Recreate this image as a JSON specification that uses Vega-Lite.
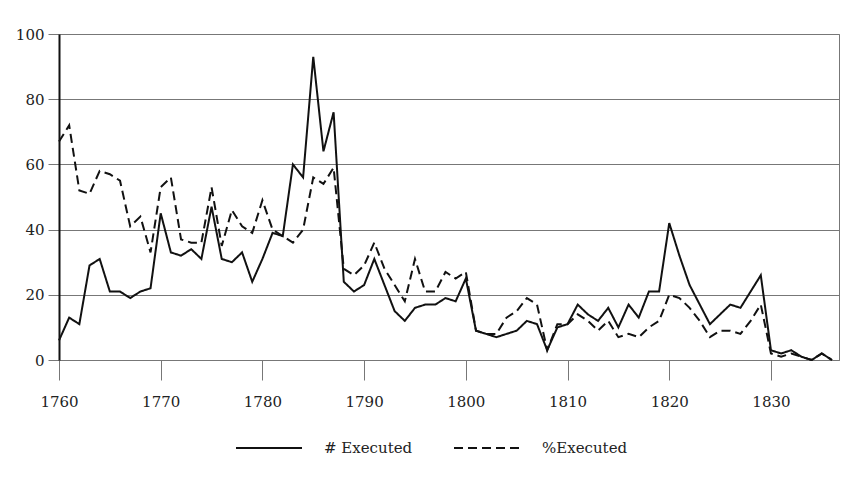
{
  "$schema": "https://vega.github.io/schema/vega-lite/v6.json",
  "autosize": "none",
  "width": 780,
  "height": 326,
  "padding": {"left": 59, "top": 34, "right": 12, "bottom": 126},
  "background": "white",
  "config": {
    "view": {"stroke": "#777", "strokeWidth": 1},
    "font": "DejaVu Serif"
  },
  "data": {
    "values": [
      {"year": 1760, "executed": 6, "pct": 67},
      {"year": 1761, "executed": 13, "pct": 72},
      {"year": 1762, "executed": 11, "pct": 52},
      {"year": 1763, "executed": 29, "pct": 51},
      {"year": 1764, "executed": 31, "pct": 58},
      {"year": 1765, "executed": 21, "pct": 57},
      {"year": 1766, "executed": 21, "pct": 55},
      {"year": 1767, "executed": 19, "pct": 41},
      {"year": 1768, "executed": 21, "pct": 44},
      {"year": 1769, "executed": 22, "pct": 33},
      {"year": 1770, "executed": 45, "pct": 53},
      {"year": 1771, "executed": 33, "pct": 56},
      {"year": 1772, "executed": 32, "pct": 37},
      {"year": 1773, "executed": 34, "pct": 36},
      {"year": 1774, "executed": 31, "pct": 36},
      {"year": 1775, "executed": 47, "pct": 53},
      {"year": 1776, "executed": 31, "pct": 35},
      {"year": 1777, "executed": 30, "pct": 46},
      {"year": 1778, "executed": 33, "pct": 41},
      {"year": 1779, "executed": 24, "pct": 39},
      {"year": 1780, "executed": 31, "pct": 49},
      {"year": 1781, "executed": 39, "pct": 40},
      {"year": 1782, "executed": 38, "pct": 38},
      {"year": 1783, "executed": 60, "pct": 36},
      {"year": 1784, "executed": 56, "pct": 40},
      {"year": 1785, "executed": 93, "pct": 56},
      {"year": 1786, "executed": 64, "pct": 54},
      {"year": 1787, "executed": 76, "pct": 59},
      {"year": 1788, "executed": 24, "pct": 28},
      {"year": 1789, "executed": 21, "pct": 26},
      {"year": 1790, "executed": 23, "pct": 29},
      {"year": 1791, "executed": 31, "pct": 36},
      {"year": 1792, "executed": 23, "pct": 28},
      {"year": 1793, "executed": 15, "pct": 23},
      {"year": 1794, "executed": 12, "pct": 18},
      {"year": 1795, "executed": 16, "pct": 31},
      {"year": 1796, "executed": 17, "pct": 21},
      {"year": 1797, "executed": 17, "pct": 21},
      {"year": 1798, "executed": 19, "pct": 27},
      {"year": 1799, "executed": 18, "pct": 25},
      {"year": 1800, "executed": 25, "pct": 27},
      {"year": 1801, "executed": 9, "pct": 9},
      {"year": 1802, "executed": 8, "pct": 8},
      {"year": 1803, "executed": 7, "pct": 8},
      {"year": 1804, "executed": 8, "pct": 13},
      {"year": 1805, "executed": 9, "pct": 15},
      {"year": 1806, "executed": 12, "pct": 19},
      {"year": 1807, "executed": 11, "pct": 17},
      {"year": 1808, "executed": 3, "pct": 3},
      {"year": 1809, "executed": 10, "pct": 11},
      {"year": 1810, "executed": 11, "pct": 11},
      {"year": 1811, "executed": 17, "pct": 14},
      {"year": 1812, "executed": 14, "pct": 12},
      {"year": 1813, "executed": 12, "pct": 9},
      {"year": 1814, "executed": 16, "pct": 12},
      {"year": 1815, "executed": 10, "pct": 7},
      {"year": 1816, "executed": 17, "pct": 8},
      {"year": 1817, "executed": 13, "pct": 7},
      {"year": 1818, "executed": 21, "pct": 10},
      {"year": 1819, "executed": 21, "pct": 12},
      {"year": 1820, "executed": 42, "pct": 20},
      {"year": 1821, "executed": 32, "pct": 19},
      {"year": 1822, "executed": 23, "pct": 16},
      {"year": 1823, "executed": 17, "pct": 12},
      {"year": 1824, "executed": 11, "pct": 7},
      {"year": 1825, "executed": 14, "pct": 9},
      {"year": 1826, "executed": 17, "pct": 9},
      {"year": 1827, "executed": 16, "pct": 8},
      {"year": 1828, "executed": 21, "pct": 12},
      {"year": 1829, "executed": 26, "pct": 17},
      {"year": 1830, "executed": 3, "pct": 2},
      {"year": 1831, "executed": 2, "pct": 1},
      {"year": 1832, "executed": 3, "pct": 2},
      {"year": 1833, "executed": 1, "pct": 1},
      {"year": 1834, "executed": 0, "pct": 0},
      {"year": 1835, "executed": 2, "pct": 2},
      {"year": 1836, "executed": 0, "pct": 0}
    ]
  },
  "transform": [
    {"fold": ["executed", "pct"], "as": ["key", "value"]},
    {"lookup": "key", "from": {"data": {"values": [{"key": "executed", "series": "# Executed"}, {"key": "pct", "series": "%Executed"}]}, "key": "key", "fields": ["series"]}}
  ],
  "mark": {"type": "line", "strokeWidth": 2, "clip": false},
  "encoding": {
    "x": {
      "field": "year",
      "type": "quantitative",
      "scale": {"domain": [1760, 1836.69], "nice": false, "zero": false},
      "axis": {
        "title": null,
        "values": [1760, 1770, 1780, 1790, 1800, 1810, 1820, 1830],
        "format": "d",
        "grid": false,
        "tickSize": 20,
        "tickColor": "#777",
        "domainColor": "#777",
        "labelFlush": false,
        "labelFontSize": 15,
        "labelFont": "DejaVu Serif",
        "labelColor": "#222",
        "labelPadding": 14
      }
    },
    "y": {
      "field": "value",
      "type": "quantitative",
      "scale": {"domain": [0, 100], "nice": false},
      "axis": {
        "title": null,
        "values": [0, 20, 40, 60, 80, 100],
        "grid": true,
        "gridColor": "#777",
        "tickSize": 11,
        "tickColor": "#777",
        "domainColor": "#111",
        "domainWidth": 2,
        "labelFontSize": 15,
        "labelFont": "DejaVu Serif",
        "labelColor": "#222",
        "labelPadding": 4
      }
    },
    "color": {
      "field": "series",
      "type": "nominal",
      "scale": {"domain": ["# Executed", "%Executed"], "range": ["#111", "#111"]},
      "legend": {
        "title": null,
        "orient": "none",
        "direction": "horizontal",
        "legendX": 176,
        "legendY": 380,
        "padding": 0,
        "symbolType": "stroke",
        "symbolSize": 4356,
        "symbolStrokeWidth": 2,
        "labelFontSize": 15,
        "labelFont": "DejaVu Serif",
        "labelColor": "#222",
        "labelOffset": 21,
        "columnPadding": 37
      }
    },
    "strokeDash": {
      "field": "series",
      "type": "nominal",
      "scale": {"domain": ["# Executed", "%Executed"], "range": [[1, 0], [9, 5]]},
      "legend": {
        "title": null,
        "orient": "none",
        "direction": "horizontal",
        "legendX": 176,
        "legendY": 380,
        "padding": 0,
        "symbolType": "stroke",
        "symbolSize": 4356,
        "symbolStrokeWidth": 2,
        "labelFontSize": 15,
        "labelFont": "DejaVu Serif",
        "labelColor": "#222",
        "labelOffset": 21,
        "columnPadding": 37
      }
    }
  }
}
